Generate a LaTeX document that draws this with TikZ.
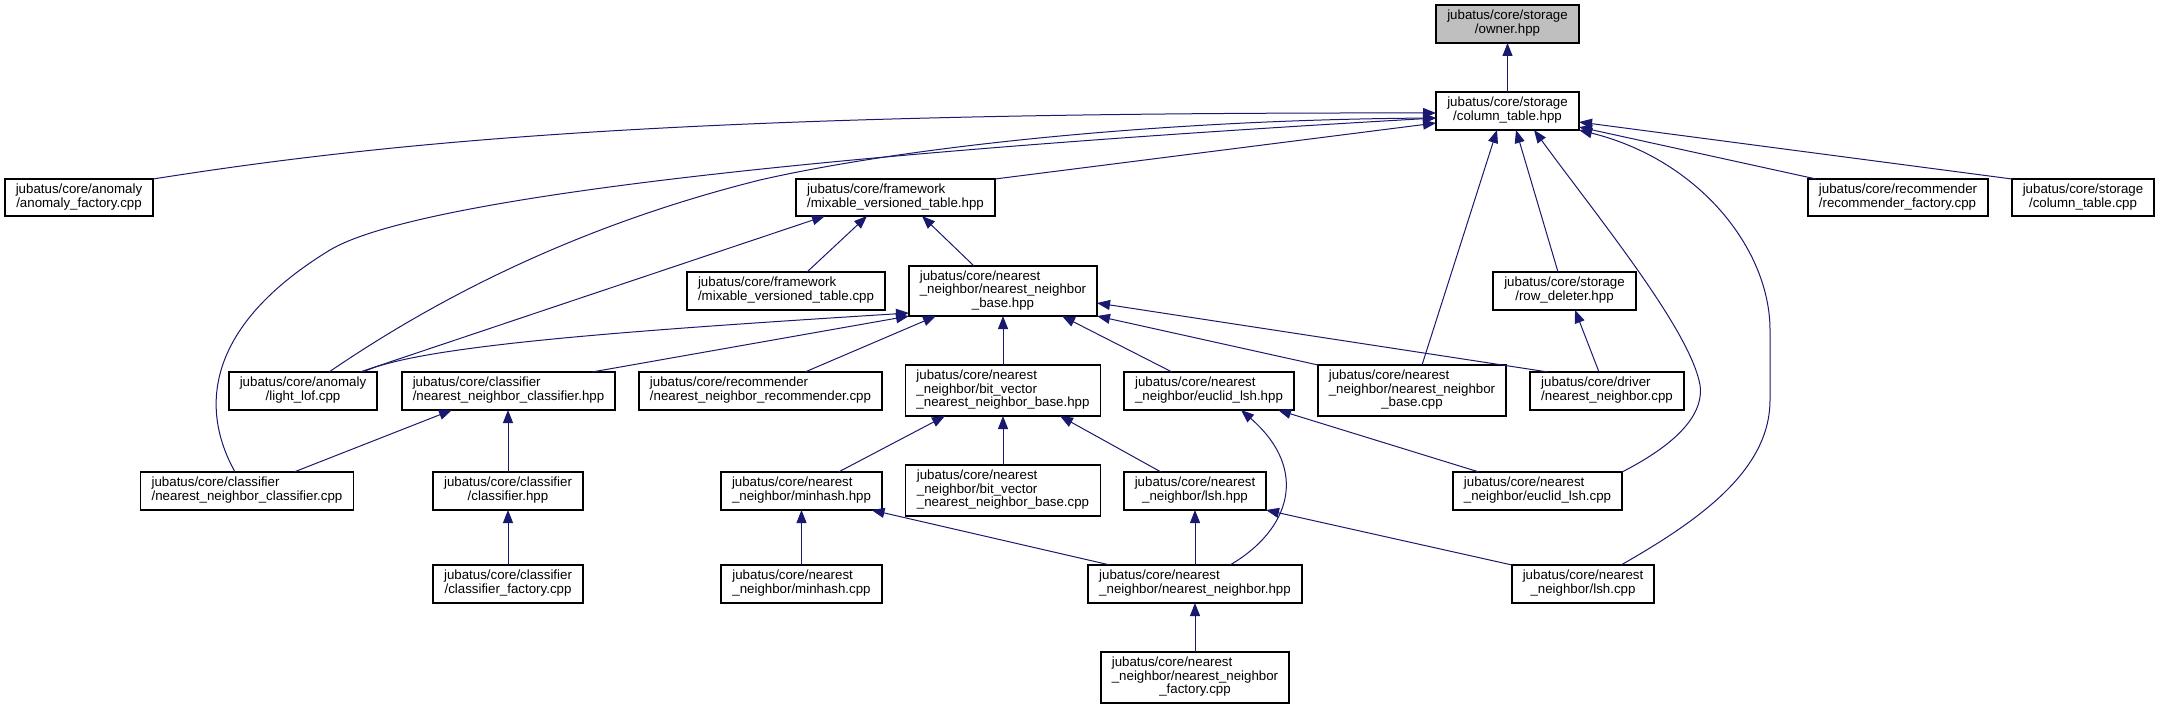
\documentclass[tikz,border=0pt]{standalone}
\usepackage{fontspec}
\setmainfont{Liberation Sans}
\usetikzlibrary{arrows.meta,calc}
\definecolor{dxblue}{HTML}{191970}
\definecolor{boxgray}{HTML}{BFBFBF}
\newcommand{\fileL}[1]{\begin{tabular}{@{}l@{}}#1\end{tabular}}
\newcommand{\fileC}[1]{\begin{tabular}{@{}c@{}}#1\end{tabular}}
\newcommand{\lastC}[1]{\multicolumn{1}{@{}c@{}}{#1}}
\begin{document}
\begin{tikzpicture}[x=1pt,y=-1pt,
  filebox/.style={draw=black,line width=1.1pt,fill=white,inner sep=0pt,outer sep=0pt,
    font=\fontsize{13.3}{13.5}\selectfont,text=black},
  sz/.style 2 args={minimum width=#1,minimum height=#2},
  dep/.style={draw=dxblue,line width=1pt,-{Triangle[length=13pt,width=10pt]}}]
\path[fill=white,use as bounding box] (0,0) rectangle (2160,709);

% row 0-1
\node[filebox,fill=boxgray,sz={143pt}{38pt}] (owner) at (1507.5,24) {\fileC{jubatus/core/storage\\/owner.hpp}};
\node[filebox,sz={143pt}{38pt}] (coltab_hpp) at (1507.5,111) {\fileC{jubatus/core/storage\\/column\_table.hpp}};
% row 2
\node[filebox,sz={148pt}{37pt}] (anomaly_factory) at (79,197.5) {\fileC{jubatus/core/anomaly\\/anomaly\_factory.cpp}};
\node[filebox,sz={199pt}{37pt}] (mvt_hpp) at (895.5,197.5) {\fileL{jubatus/core/framework\\/mixable\_versioned\_table.hpp}};
\node[filebox,sz={180pt}{37pt}] (rec_factory) at (1898,197.5) {\fileL{jubatus/core/recommender\\/recommender\_factory.cpp}};
\node[filebox,sz={142pt}{37pt}] (coltab_cpp) at (2083,197.5) {\fileC{jubatus/core/storage\\/column\_table.cpp}};
% row 3
\node[filebox,sz={198pt}{38pt}] (mvt_cpp) at (786,291) {\fileL{jubatus/core/framework\\/mixable\_versioned\_table.cpp}};
\node[filebox,sz={188pt}{50pt}] (nnbase_hpp) at (1003,291) {\fileL{jubatus/core/nearest\\\_neighbor/nearest\_neighbor\\\lastC{\_base.hpp}}};
\node[filebox,sz={143pt}{38pt}] (row_deleter) at (1564.5,291) {\fileC{jubatus/core/storage\\/row\_deleter.hpp}};
% row 4
\node[filebox,sz={148pt}{38pt}] (light_lof) at (303,391) {\fileC{jubatus/core/anomaly\\/light\_lof.cpp}};
\node[filebox,sz={213pt}{38pt}] (nnc_hpp) at (508.5,391) {\fileL{jubatus/core/classifier\\/nearest\_neighbor\_classifier.hpp}};
\node[filebox,sz={243pt}{38pt}] (nnrec_cpp) at (760.5,391) {\fileL{jubatus/core/recommender\\/nearest\_neighbor\_recommender.cpp}};
\node[filebox,sz={195pt}{51pt}] (bv_hpp) at (1003,390.5) {\fileL{jubatus/core/nearest\\\_neighbor/bit\_vector\\\_nearest\_neighbor\_base.hpp}};
\node[filebox,sz={170pt}{38pt}] (euclid_hpp) at (1209,391) {\fileL{jubatus/core/nearest\\\_neighbor/euclid\_lsh.hpp}};
\node[filebox,sz={188pt}{51pt}] (nnbase_cpp) at (1412,390.5) {\fileL{jubatus/core/nearest\\\_neighbor/nearest\_neighbor\\\lastC{\_base.cpp}}};
\node[filebox,sz={154pt}{38pt}] (driver) at (1607,391) {\fileL{jubatus/core/driver\\/nearest\_neighbor.cpp}};
% row 5
\node[filebox,sz={213pt}{38pt}] (nnc_cpp) at (247,491) {\fileL{jubatus/core/classifier\\/nearest\_neighbor\_classifier.cpp}};
\node[filebox,sz={150pt}{38pt}] (classifier_hpp) at (508,491) {\fileC{jubatus/core/classifier\\/classifier.hpp}};
\node[filebox,sz={161pt}{38pt}] (minhash_hpp) at (801.5,491) {\fileL{jubatus/core/nearest\\\_neighbor/minhash.hpp}};
\node[filebox,sz={195pt}{51pt}] (bv_cpp) at (1003,490.5) {\fileL{jubatus/core/nearest\\\_neighbor/bit\_vector\\\_nearest\_neighbor\_base.cpp}};
\node[filebox,sz={142pt}{38pt}] (lsh_hpp) at (1195,491) {\fileC{jubatus/core/nearest\\\_neighbor/lsh.hpp}};
\node[filebox,sz={169pt}{38pt}] (euclid_cpp) at (1537.5,491) {\fileL{jubatus/core/nearest\\\_neighbor/euclid\_lsh.cpp}};
% row 6
\node[filebox,sz={150pt}{38pt}] (classifier_factory) at (508,584) {\fileC{jubatus/core/classifier\\/classifier\_factory.cpp}};
\node[filebox,sz={161pt}{38pt}] (minhash_cpp) at (801.5,584) {\fileL{jubatus/core/nearest\\\_neighbor/minhash.cpp}};
\node[filebox,sz={214pt}{38pt}] (nn_hpp) at (1195,584) {\fileL{jubatus/core/nearest\\\_neighbor/nearest\_neighbor.hpp}};
\node[filebox,sz={142pt}{38pt}] (lsh_cpp) at (1583,584) {\fileC{jubatus/core/nearest\\\_neighbor/lsh.cpp}};
% row 7
\node[filebox,sz={188pt}{51pt}] (nn_factory) at (1195,677.5) {\fileL{jubatus/core/nearest\\\_neighbor/nearest\_neighbor\\\lastC{\_factory.cpp}}};

% edges
\draw[dep] (coltab_hpp.north) -- (owner.south);
\draw[dep] (anomaly_factory.north east) .. controls (400,140) and (700,112) .. ($(coltab_hpp.west)+(0,2)$);
\draw[dep] ($(nnc_cpp.north)+(-12,0)$) .. controls (195,400) and (215,320) .. (330,250) .. controls (400,208) and (700,160) .. ($(coltab_hpp.west)+(0,7)$);
\draw[dep] ($(light_lof.north)+(26,0)$) .. controls (420,310) and (560,230) .. (760,180) .. controls (900,148) and (1150,120) .. ($(coltab_hpp.west)+(0,7)$);
\draw[dep] (mvt_hpp.north east) -- ($(coltab_hpp.west)+(0,12)$);
\draw[dep] ($(light_lof.north)+(57,0)$) -- ($(mvt_hpp.south)+(-70.5,0)$);
\draw[dep] ($(mvt_cpp.north)+(21,0)$) -- ($(mvt_hpp.south)+(-28.5,0)$);
\draw[dep] ($(nnbase_hpp.north)+(-29,0)$) -- ($(mvt_hpp.south)+(26.5,0)$);
\draw[dep] ($(light_lof.north)+(60,0)$) .. controls (420,345) and (640,330) .. ($(nnbase_hpp.south west)+(0,-3)$);
\draw[dep] ($(nnc_hpp.north)+(83.5,0)$) -- (nnbase_hpp.south west);
\draw[dep] ($(nnrec_cpp.north)+(44.5,0)$) -- ($(nnbase_hpp.south)+(-67,0)$);
\draw[dep] (bv_hpp.north) -- (nnbase_hpp.south);
\draw[dep] ($(euclid_hpp.north)+(-37,0)$) -- ($(nnbase_hpp.south)+(59,0)$);
\draw[dep] (nnbase_cpp.north west) -- (nnbase_hpp.south east);
\draw[dep] ($(driver.north)+(-59,0)$) -- ($(nnbase_hpp.east)+(0,12)$);
\draw[dep] ($(nnbase_cpp.north)+(10,0)$) -- ($(coltab_hpp.south)+(-10.5,0)$);
\draw[dep] ($(row_deleter.north)+(-6.5,0)$) -- ($(coltab_hpp.south)+(8.5,0)$);
\draw[dep] (euclid_cpp.north east) .. controls (1665,450) and (1705,420) .. (1700,385) .. controls (1690,330) and (1600,220) .. ($(coltab_hpp.south)+(26.5,0)$);
\draw[dep] (coltab_cpp.north west) -- ($(coltab_hpp.east)+(0,11)$);
\draw[dep] ($(rec_factory.north west)+(8,0)$) -- ($(coltab_hpp.south east)+(0,-3)$);
\draw[dep] ($(lsh_cpp.north east)+(-33,0)$) .. controls (1700,520) and (1770,470) .. (1770,400) -- (1770,330) .. controls (1770,250) and (1700,160) .. (coltab_hpp.south east);
\draw[dep] ($(driver.north)+(-8,0)$) -- ($(row_deleter.south)+(10.5,0)$);
\draw[dep] ($(nnc_cpp.north)+(47,0)$) -- ($(nnc_hpp.south)+(-56.5,0)$);
\draw[dep] (classifier_hpp.north) -- (classifier_hpp.north |- nnc_hpp.south);
\draw[dep] (classifier_factory.north) -- (classifier_hpp.south);
\draw[dep] ($(minhash_hpp.north)+(37,0)$) -- ($(bv_hpp.south)+(-58,0)$);
\draw[dep] (bv_cpp.north) -- (bv_hpp.south);
\draw[dep] ($(lsh_hpp.north)+(-34,0)$) -- ($(bv_hpp.south)+(57,0)$);
\draw[dep] ($(euclid_cpp.north west)+(26,0)$) -- ($(euclid_hpp.south)+(69,0)$);
\draw[dep] ($(nn_hpp.north)+(35,0)$) .. controls (1290,530) and (1310,470) .. ($(euclid_hpp.south)+(32,0)$);
\draw[dep] (minhash_cpp.north) -- (minhash_hpp.south);
\draw[dep] ($(nn_hpp.north)+(-85,0)$) -- ($(minhash_hpp.south)+(70,0)$);
\draw[dep] (nn_hpp.north) -- (lsh_hpp.south);
\draw[dep] (lsh_cpp.north west) -- (lsh_hpp.south east);
\draw[dep] (nn_factory.north) -- (nn_hpp.south);
\end{tikzpicture}
\end{document}
